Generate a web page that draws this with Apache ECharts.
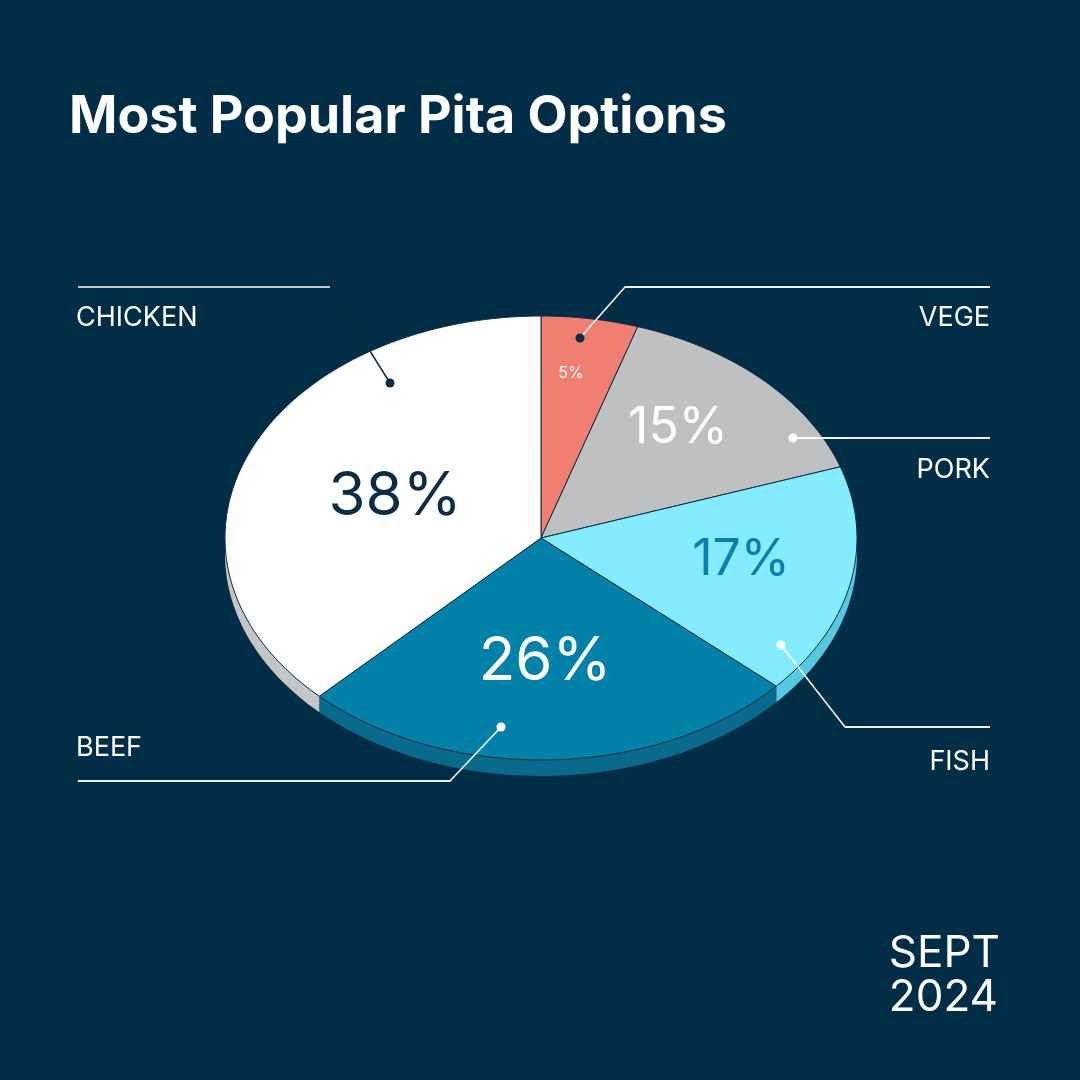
<!DOCTYPE html>
<html><head><meta charset="utf-8">
<script src="https://cdn.jsdelivr.net/npm/echarts@6/dist/echarts.min.js"></script>
<style>html,body{margin:0;background:#022d46}#c{width:1080px;height:1080px}</style>
</head><body><div id="c"></div>
<script>
const categories = ['VEGE','PORK','FISH','BEEF','CHICKEN'];
const values = [5, 15, 17, 26, 38];
const topColors = ['#f07f72','#bfc0c2','#85ebff','#0381a9','#ffffff'];
const sideColors = ['#c9685d','#9d9ea0','#55c9e2','#0a6a8c','#c4c5c7'];
const pctColors = ['#ffffff','#ffffff','#0a7fa8','#ffffff','#0d2d44'];
const pctSizes = [16, 50, 50, 60, 60];
const pctPos = [[571,373],[678,428],[741,560],[545,662],[395,497]];
// leader: dot, elbow, end; label pos, align
const leaders = [
  [[580,338],[625,287],[990,287],[990,318],'right'],
  [[793,438],[793,438],[990,438],[990,470],'right'],
  [[781,645],[845,727],[990,727],[990,762],'right'],
  [[501,727],[450,781],[78,781],[76,748],'left'],
  [[390,383],[330,287],[78,287],[76,318],'left']
];
const CX=541, CY=538, RX=316, RY=222, DEPTH=16;
const total = values.reduce((a,b)=>a+b,0);
const starts=[]; let acc=0; values.forEach(v=>{starts.push(acc/total*2*Math.PI); acc+=v;});
function pt(t,dy){return [CX+RX*Math.sin(t), CY-RY*Math.cos(t)+(dy||0)];}
function arc(a,b,dy){const n=Math.max(4,Math.ceil((b-a)/0.02));const p=[];for(let i=0;i<=n;i++)p.push(pt(a+(b-a)*i/n,dy));return p;}
const chart = echarts.init(document.getElementById('c'));
chart.setOption({
  backgroundColor:'#022d46',
  title:{text:'Most Popular Pita Options',left:64,top:86,textStyle:{color:'#fff',fontSize:52,fontWeight:'bold',fontFamily:'Inter'}},
  graphic:[{type:'text',right:80,top:932,style:{text:'SEPT\n2024',fill:'#fff',font:'44px Inter',lineHeight:44,align:'left'}}],
  series:[{
    type:'custom', coordinateSystem:'none',
    data: values.map((v,i)=>[v,i]),
    renderItem:function(params,api){
      const i=api.value(1), v=api.value(0);
      const a=starts[i], b=a+v/total*2*Math.PI;
      const ch=[];
      // side
      const sa=Math.max(a,Math.PI/2), sb=Math.min(b,3*Math.PI/2);
      if(sb>sa){
        const top=arc(sa,sb,0), bot=arc(sa,sb,DEPTH).reverse();
        ch.push({type:'polygon',shape:{points:top.concat(bot)},style:{fill:sideColors[i]}});
      }
      ch.push({type:'polygon',shape:{points:[[CX,CY]].concat(arc(a,b,0))},style:{fill:topColors[i],stroke:'#0d2d44',lineWidth:1}});
      ch.push({type:'text',x:pctPos[i][0],y:pctPos[i][1],style:{text:v+'%',fill:pctColors[i],fontSize:pctSizes[i],fontFamily:'Inter',align:'center',verticalAlign:'middle'}});
      const L=leaders[i];
      ch.push({type:'polyline',shape:{points:[L[0],L[1],L[2]]},style:{stroke:i===4?'#0d2d44':'#fff',lineWidth:1.5,fill:null},z2:5});
      ch.push({type:'polyline',shape:{points:[L[1],L[2]]},style:{stroke:'#fff',lineWidth:1.5,fill:null},z2:6});
      ch.push({type:'circle',shape:{cx:L[0][0],cy:L[0][1],r:4.5},style:{fill:(i===4||i===0)?'#0d2d44':'#fff'},z2:7});
      ch.push({type:'text',x:L[3][0],y:L[3][1],style:{text:categories[i],fill:'#fff',fontSize:27,fontFamily:'Inter',align:L[4],verticalAlign:'middle'}});
      return {type:'group',children:ch};
    }
  }]
});
</script></body></html>
